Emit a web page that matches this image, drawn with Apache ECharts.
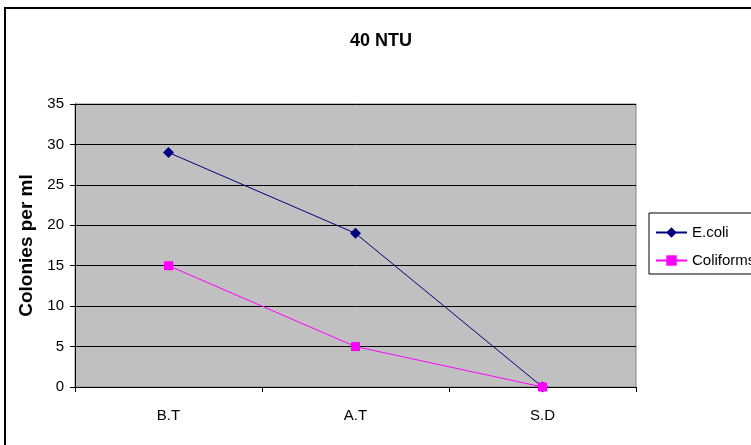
<!DOCTYPE html>
<html>
<head>
<meta charset="utf-8">
<script src="https://cdn.jsdelivr.net/npm/echarts@6/dist/echarts.min.js"></script>
<style>
html,body{margin:0;padding:0;background:#fff;}
#chart{width:751px;height:445px;}
</style>
</head>
<body>
<div id="chart"></div>
<script>
// Colony counts per ml at each sampling stage
const categories = ['B.T', 'A.T', 'S.D'];
const ecoli = [29, 19, 0];
const coliforms = [15, 5, 0];

const FONT = '"Liberation Sans", Arial, sans-serif';

const chart = echarts.init(document.getElementById('chart'));
chart.setOption({
  animation: false,
  backgroundColor: '#ffffff',
  title: {
    text: '40 NTU',
    left: 376, top: 27, textAlign: 'center',
    textStyle: { fontFamily: FONT, fontSize: 18, fontWeight: 'bold', color: '#000' }
  },
  graphic: [
    { type: 'rect', shape: { x: 5, y: 8, width: 760, height: 450 },
      style: { fill: 'none', stroke: '#000', lineWidth: 2 }, z: 100 }
  ],
  legend: {
    orient: 'vertical',
    left: 649, top: 213,
    padding: [12, 12, 6, 6],
    itemGap: 13,
    itemWidth: 31, itemHeight: 13,
    borderColor: '#000', borderWidth: 1,
    backgroundColor: '#fff',
    textStyle: { fontFamily: FONT, fontSize: 15, color: '#000' },
    data: ['E.coli', 'Coliforms']
  },
  grid: {
    left: 75, right: 115, top: 104, bottom: 58,
    show: true, backgroundColor: '#C0C0C0', borderColor: '#808080', borderWidth: 1
  },
  xAxis: {
    type: 'category',
    data: categories,
    boundaryGap: true,
    axisLine: { lineStyle: { color: '#000', width: 1 } },
    axisTick: { show: true, length: 5, lineStyle: { color: '#000' } },
    axisLabel: { margin: 21, fontFamily: FONT, fontSize: 15, color: '#000' }
  },
  yAxis: {
    type: 'value',
    min: 0, max: 35, interval: 5,
    name: 'Colonies per ml',
    nameLocation: 'middle',
    nameGap: 31,
    nameTextStyle: { fontFamily: FONT, fontSize: 19, fontWeight: 'bold', color: '#000' },
    axisLine: { show: true, lineStyle: { color: '#000' } },
    axisTick: { show: true, length: 5, lineStyle: { color: '#000' } },
    axisLabel: { margin: 11, fontFamily: FONT, fontSize: 15, color: '#000' },
    splitLine: { show: true, lineStyle: { color: '#000', width: 1 } }
  },
  series: [
    {
      name: 'E.coli', type: 'line', data: ecoli,
      symbol: 'diamond', symbolSize: 11,
      lineStyle: { color: '#000080', width: 1 },
      itemStyle: { color: '#000080' },
      z: 3
    },
    {
      name: 'Coliforms', type: 'line', data: coliforms,
      symbol: 'rect', symbolSize: 9,
      lineStyle: { color: '#FF00FF', width: 1 },
      itemStyle: { color: '#FF00FF' },
      z: 4
    }
  ]
});
</script>
</body>
</html>
